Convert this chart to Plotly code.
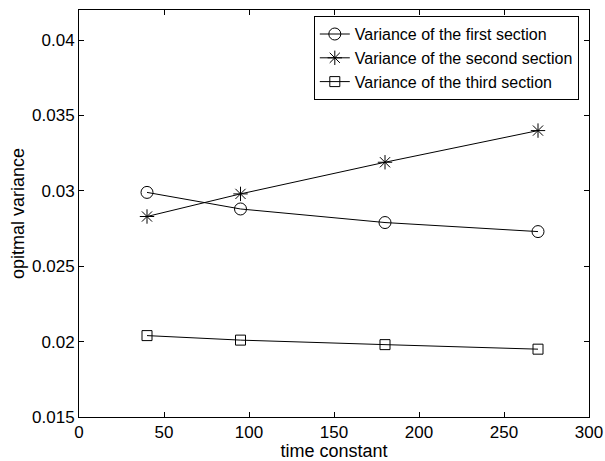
import plotly.graph_objects as go

time_constant = [40, 95, 180, 270]
var_first = [0.0299, 0.0288, 0.0279, 0.0273]
var_second = [0.0283, 0.0298, 0.0319, 0.0340]
var_third = [0.0204, 0.0201, 0.0198, 0.0195]

series_names = ["Variance of the first section",
                "Variance of the second section",
                "Variance of the third section"]
series_values = [var_first, var_second, var_third]
series_symbols = ["circle-open", "asterisk-open", "square-open"]
series_sizes = [12, 12, 10]

x_ticks = [0, 50, 100, 150, 200, 250, 300]
y_ticks = [0.015, 0.02, 0.025, 0.03, 0.035, 0.04]
y_ticktext = ["0.015", "0.02", "0.025", "0.03", "0.035", "0.04"]

FONT = "Liberation Sans, Arial, Helvetica, sans-serif"

fig = go.Figure()
for name, vals, sym, sz in zip(series_names, series_values, series_symbols, series_sizes):
    fig.add_trace(go.Scatter(
        x=time_constant, y=vals, name=name, mode="lines+markers",
        line=dict(color="black", width=1),
        marker=dict(symbol=sym, size=sz, color="black", line=dict(color="black", width=1)),
    ))

axis_common = dict(
    showline=True, linecolor="black", linewidth=1, mirror="ticks",
    ticks="inside", ticklen=5, tickcolor="black", tickwidth=1,
    showgrid=False, zeroline=False, automargin=False,
    tickfont=dict(family=FONT, size=17, color="black"),
)

fig.update_layout(
    width=605, height=461,
    margin=dict(l=79, r=16, t=10, b=44),
    paper_bgcolor="white", plot_bgcolor="white",
    font=dict(family=FONT, size=17, color="black"),
    showlegend=True,
    legend=dict(
        x=0.980, y=0.985, xanchor="right", yanchor="top",
        bordercolor="black", borderwidth=1, bgcolor="white",
        font=dict(family=FONT, size=16, color="black"),
        tracegroupgap=0, itemwidth=30,
    ),
    xaxis=dict(range=[0, 300], tickvals=x_ticks,
               title=dict(text="time constant", standoff=0,
                          font=dict(family=FONT, size=18, color="black")),
               **axis_common),
    yaxis=dict(range=[0.015, 0.042], tickvals=y_ticks, ticktext=y_ticktext,
               title=dict(text="opitmal variance", standoff=2,
                          font=dict(family=FONT, size=18, color="black")),
               **axis_common),
)

fig.write_html("out.html")
